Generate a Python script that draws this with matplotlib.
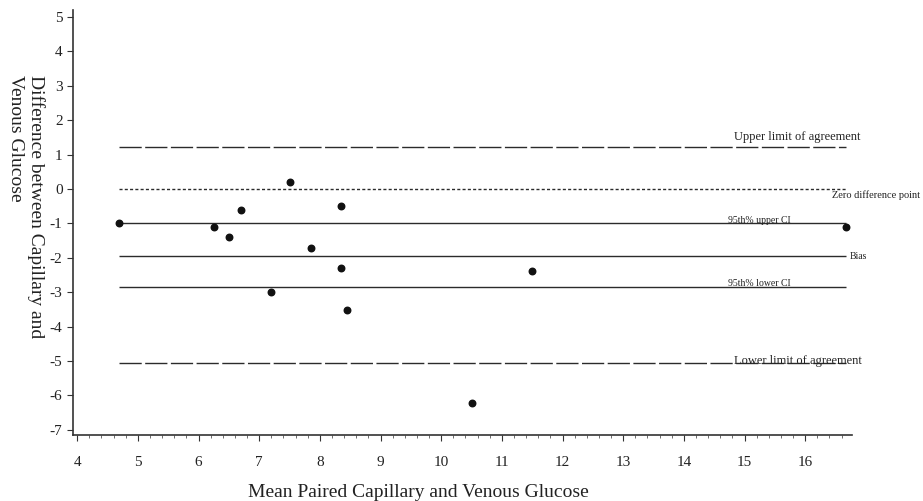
import matplotlib as mpl
import matplotlib.pyplot as plt
import matplotlib.ticker as ticker
import numpy as np

# mean of paired capillary/venous glucose and their difference
mean_glucose = [4.69, 6.25, 6.50, 6.70, 7.50, 7.20, 7.86, 8.35, 8.35, 8.45, 10.50, 11.50, 16.67]
diff_glucose = [-1.00, -1.10, -1.40, -0.61, 0.19, -3.01, -1.71, -0.50, -2.31, -3.52, -6.21, -2.38, -1.10]

# Bland-Altman reference lines
ref_names = ["Upper limit of agreement", "Zero difference point", "95th% upper CI",
             "Bias", "95th% lower CI", "Lower limit of agreement"]
ref_values = [1.22, 0.0, -1.0, -1.94, -2.85, -5.05]

mpl.rcParams["font.family"] = ["Liberation Serif", "DejaVu Serif"]
mpl.rcParams["axes.unicode_minus"] = False

fig = plt.figure(figsize=(9.23, 5.01), dpi=100)
ax = fig.add_axes([0.079, 0.132, 0.844, 0.848])

x0, x1 = min(mean_glucose), max(mean_glucose)
line_col = "#2b2b2b"

# style per reference line: linestyle, label x, label offset (pt), font size
styles = {
    "Upper limit of agreement": ((0, (16, 2.5)), 14.82, 3, 9),
    "Zero difference point": ((0, (2.2, 1.6)), 16.44, -8, 7.5),
    "95th% upper CI": ("-", 14.72, -1, 7),
    "Bias": ("-", 16.74, -3.5, 7),
    "95th% lower CI": ("-", 14.72, -0.5, 7),
    "Lower limit of agreement": ((0, (16, 2.5)), 14.82, -3.5, 9),
}

for name, val in zip(ref_names, ref_values):
    ls, lx, dy, fs = styles[name]
    ax.hlines(val, x0, x1, colors=line_col, linestyles=ls, linewidth=1.0)
    ax.annotate(name, (lx, val), xytext=(0, dy), textcoords="offset points",
                fontsize=fs, color="#222222", va="bottom", ha="left",
                annotation_clip=False)

ax.scatter(mean_glucose, diff_glucose, s=22, color="#111111", zorder=3)

ax.set_xlim(3.93, 16.77)
ax.set_ylim(-7.15, 5.2)
ax.xaxis.set_major_locator(ticker.MultipleLocator(1))
ax.xaxis.set_minor_locator(ticker.MultipleLocator(0.2))
ax.yaxis.set_major_locator(ticker.MultipleLocator(1))
ax.set_xticks(np.arange(4, 17, 1))

for s in ["top", "right"]:
    ax.spines[s].set_visible(False)
for s in ["left", "bottom"]:
    ax.spines[s].set_color("#333333")
    ax.spines[s].set_linewidth(1.2)

ax.tick_params(axis="both", which="major", length=4, width=0.8, colors="#333333",
               labelsize=11, labelcolor="#222222")
ax.tick_params(axis="x", which="minor", length=2.5, width=0.6, colors="#555555")
ax.tick_params(axis="x", which="major", pad=11)

fig.text(0.453, 0.016, "Mean Paired Capillary and Venous Glucose", fontsize=14,
         color="#222222", ha="center", va="center")
fig.text(0.028, 0.850, "Difference between Capillary and\nVenous Glucose",
         rotation=270, fontsize=14, color="#222222", ha="center", va="top",
         multialignment="left", linespacing=1.2)

plt.savefig("out.png", dpi=100)
plt.close()
